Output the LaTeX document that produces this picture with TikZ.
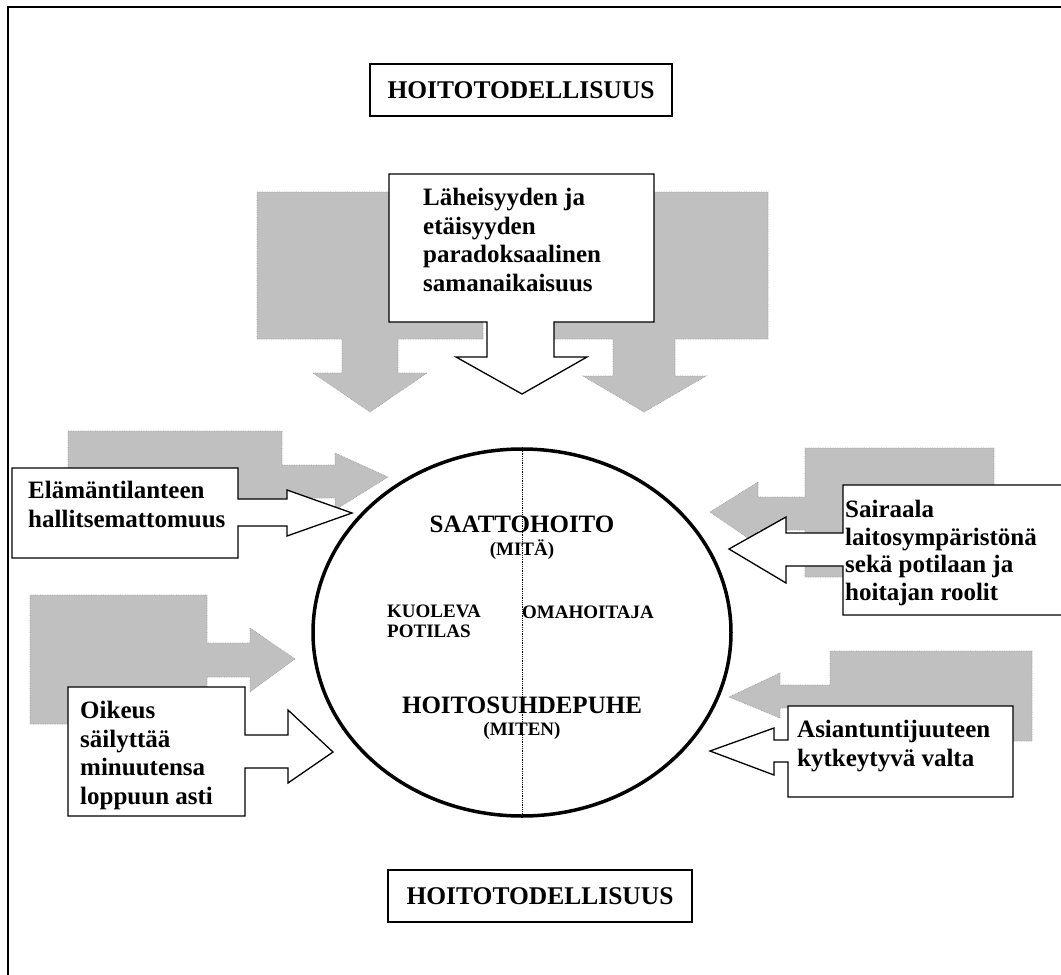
\documentclass[tikz,border=0pt]{standalone}
\usepackage{fontspec}
\setmainfont{Liberation Serif}
\usetikzlibrary{shapes.geometric}
\definecolor{varjo}{RGB}{192,192,192}
\begin{document}
\begin{tikzpicture}[x=1pt, y=-1pt,
		varjonuoli/.style={fill=varjo, draw=gray!75, densely dotted, line width=0.7pt},
		nuoli/.style={fill=white, draw=black, line width=1.3pt, line join=miter},
		teksti/.style={anchor=north west, inner sep=0pt, align=left, font=\bfseries\fontsize{25}{28.5}\selectfont},
		otsikko/.style={draw=black, line width=1.2pt, fill=white, minimum height=52pt, inner sep=0pt, font=\bfseries\fontsize{25.5}{30}\selectfont},
		isot/.style={inner sep=0pt, font=\bfseries\fontsize{25}{30}\selectfont},
		pienet/.style={inner sep=0pt, align=left, font=\bfseries\fontsize{19}{20}\selectfont}]
		\useasboundingbox (0,0) rectangle (1061,975);
		\draw[line width=1.5pt] (8,985) -- (8,7) -- (1070,7);
		\node[otsikko, minimum width=302pt] (todellisuusYla) at (521,90) {HOITOTODELLISUUS};
		\node[otsikko, minimum width=304pt] (todellisuusAla) at (540,896) {HOITOTODELLISUUS};
		\draw[varjonuoli] (257,192) -- (483,192) -- (483,339) -- (398,339) -- (398,373) -- (427,373) -- (370,412) -- (313,373) -- (342,373) -- (342,339) -- (257,339) -- cycle;
		\draw[varjonuoli] (530,192) -- (768,192) -- (768,339) -- (675,339) -- (675,376) -- (706,376) -- (644,412) -- (583,376) -- (613,376) -- (613,339) -- (530,339) -- cycle;
		\draw[varjonuoli] (68,431) -- (282,431) -- (282,465) -- (335,465) -- (335,453) -- (388,477) -- (335,510) -- (335,498) -- (282,498) -- (282,500) -- (68,500) -- cycle;
		\draw[varjonuoli] (30,595) -- (207,595) -- (207,643) -- (250,643) -- (250,628) -- (295,659) -- (250,692) -- (250,677) -- (207,677) -- (207,724) -- (30,724) -- cycle;
		\draw[varjonuoli] (994,448) -- (805,448) -- (805,497) -- (758,497) -- (758,482) -- (710,512) -- (758,545) -- (758,530) -- (805,530) -- (805,577) -- (994,577) -- cycle;
		\draw[varjonuoli] (1032,651) -- (830,651) -- (830,685) -- (780,685) -- (780,673) -- (729,697) -- (780,718) -- (780,708) -- (830,708) -- (830,741) -- (1032,741) -- cycle;
		\node[draw=black, ellipse, line width=3.5pt, fill=white, minimum width=418pt, minimum height=367pt, inner sep=0pt] (ympyra) at (522,632.5) {};
		\draw[densely dotted, line width=0.8pt] (ympyra.north) -- (ympyra.south);
		\draw[nuoli] (389,174) -- (654,174) -- (654,322) -- (554,322) -- (554,357) -- (587,357) -- (522,394) -- (456,357) -- (487,357) -- (487,322) -- (389,322) -- cycle;
		\draw[nuoli] (12,468) -- (238,468) -- (238,499) -- (287,499) -- (287,490) -- (352,513) -- (287,536) -- (287,526) -- (238,526) -- (238,558) -- (12,558) -- cycle;
		\draw[nuoli] (68,687) -- (245,687) -- (245,735) -- (288,735) -- (288,710) -- (333,752) -- (288,783) -- (288,768) -- (245,768) -- (245,816) -- (68,816) -- cycle;
		\draw[nuoli] (843,485) -- (1066,485) -- (1066,615) -- (843,615) -- (843,566) -- (786,566) -- (786,583) -- (729,549) -- (786,517) -- (786,533) -- (843,533) -- cycle;
		\draw[nuoli] (788,706) -- (1013,706) -- (1013,797) -- (788,797) -- (788,762) -- (774,762) -- (774,775) -- (710,751) -- (774,728) -- (774,740) -- (788,740) -- cycle;
		\node[teksti] (lahei) at (423,188) {Läheisyyden ja\\etäisyyden\\paradoksaalinen\\samanaikaisuus};
		\node[teksti] (elama) at (28,481) {Elämäntilanteen\\hallitsemattomuus};
		\node[teksti] (oikeus) at (80,701) {Oikeus\\säilyttää\\minuutensa\\loppuun asti};
		\node[teksti, font=\bfseries\fontsize{25}{27.7}\selectfont] (sairaala) at (845,500) {Sairaala\\laitosympäristönä\\sekä potilaan ja\\hoitajan roolit};
		\node[teksti] (asiantuntijuus) at (797,720) {Asiantuntijuuteen\\kytkeytyvä valta};
		\node[isot, anchor=base] (saattohoito) at (522,532) {SAATTOHOITO};
		\node[pienet, anchor=base] (mita) at (522,555) {(MITÄ)};
		\node[pienet, anchor=north west] (kuoleva) at (387,605) {KUOLEVA\\POTILAS};
		\node[pienet, anchor=base west] (omahoitaja) at (522,618) {OMAHOITAJA};
		\node[isot, anchor=base] (hoitosuhde) at (522,713) {HOITOSUHDEPUHE};
		\node[pienet, anchor=base] (miten) at (522,735) {(MITEN)};
\end{tikzpicture}
\end{document}
